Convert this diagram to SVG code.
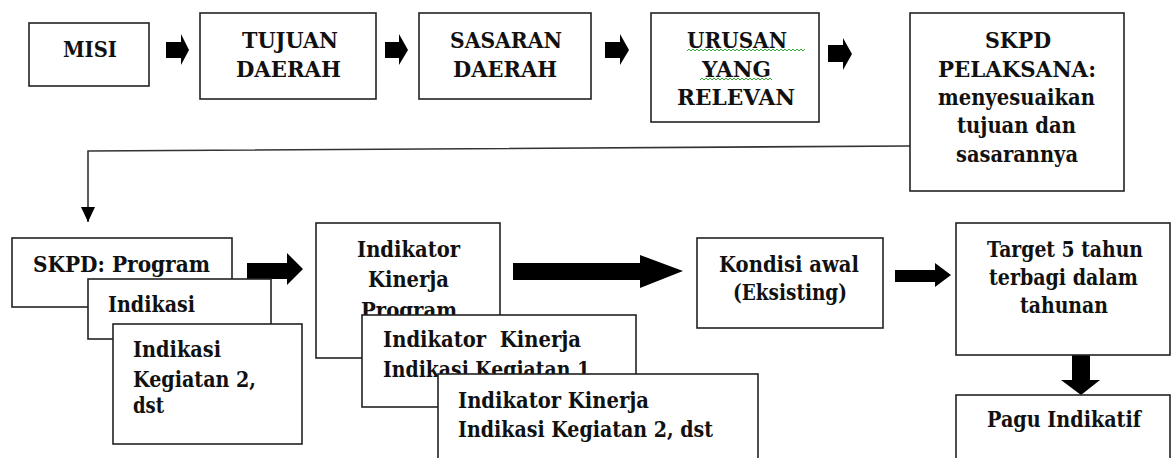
<svg xmlns="http://www.w3.org/2000/svg" width="1171" height="458" viewBox="0 0 1171 458">
<style>
.box{fill:#fff;stroke:#222;stroke-width:1.6}
.t{font-weight:bold;font-size:22px;fill:#111}
.blk{fill:#000}
.ln{fill:none;stroke:#333;stroke-width:1.6}
.sq{fill:none;stroke:#3a3;stroke-width:1}
</style>
<defs>
<marker id="ah" markerWidth="16" markerHeight="16" refX="15" refY="8" orient="auto" markerUnits="userSpaceOnUse" viewBox="0 0 16 16">
<path d="M0,1 L15,8 L0,15 Z" fill="#000"/>
</marker>
</defs>
<g id="connectors">
<path class="blk" d="M166,42 L181,42 L181,34 L189,50 L181,65 L181,58 L166,58 Z"/>
<path class="blk" d="M385,42 L399,42 L399,34 L408,50 L399,65 L399,58 L385,58 Z"/>
<path class="blk" d="M605,42 L620,42 L620,34 L629,50 L620,65 L620,58 L605,58 Z"/>
<path class="blk" d="M828,45 L843,45 L843,38 L852,54 L843,70 L843,62 L828,62 Z"/>
<path class="ln" d="M910,146 L88,151 L88,222" marker-end="url(#ah)"/>
<path class="blk" d="M247,263 L287,263 L287,253 L303,269 L287,285 L287,279 L247,279 Z"/>
<path class="blk" d="M513,263 L640,263 L640,255 L683,271 L640,288 L640,280 L513,280 Z"/>
<path class="blk" d="M895,270 L935,270 L935,263 L951,275 L935,287 L935,282 L895,282 Z"/>
<path class="blk" d="M1072,337 L1090,337 L1090,380 L1100,380 L1081,395 L1061,380 L1072,380 Z"/>
</g>
<g id="misi"><rect class="box" x="29" y="23" width="120" height="63"/><text class="t" font-family="DejaVu Serif" x="63" y="57" textLength="54" lengthAdjust="spacingAndGlyphs">MISI</text></g>
<g id="tujuan"><rect class="box" x="200" y="13" width="176" height="86"/><text class="t" font-family="DejaVu Serif" x="242" y="48" textLength="96" lengthAdjust="spacingAndGlyphs">TUJUAN</text><text class="t" font-family="DejaVu Serif" x="236" y="77" textLength="105" lengthAdjust="spacingAndGlyphs">DAERAH</text></g>
<g id="sasaran"><rect class="box" x="419" y="13" width="172" height="86"/><text class="t" font-family="DejaVu Serif" x="450" y="48" textLength="112" lengthAdjust="spacingAndGlyphs">SASARAN</text><text class="t" font-family="DejaVu Serif" x="453" y="77" textLength="104" lengthAdjust="spacingAndGlyphs">DAERAH</text></g>
<g id="urusan"><rect class="box" x="651" y="13" width="168" height="109"/><text class="t" font-family="DejaVu Serif" x="687" y="48" textLength="100" lengthAdjust="spacingAndGlyphs">URUSAN</text><text class="t" font-family="DejaVu Serif" x="702" y="77" textLength="69" lengthAdjust="spacingAndGlyphs">YANG</text><text class="t" font-family="DejaVu Serif" x="677" y="105" textLength="118" lengthAdjust="spacingAndGlyphs">RELEVAN</text>
<path class="sq" d="M687,51 l2,-2 l2,2 l2,-2 l2,2 l2,-2 l2,2 l2,-2 l2,2 l2,-2 l2,2 l2,-2 l2,2 l2,-2 l2,2 l2,-2 l2,2 l2,-2 l2,2 l2,-2 l2,2 l2,-2 l2,2 l2,-2 l2,2 l2,-2 l2,2 l2,-2 l2,2 l2,-2 l2,2 l2,-2 l2,2 l2,-2 l2,2 l2,-2 l2,2 l2,-2 l2,2 l2,-2 l2,2 l2,-2 l2,2 l2,-2 l2,2 l2,-2 l2,2 l2,-2 l2,2 l2,-2 l2,2 l2,-2 l2,2 l2,-2 l2,2 l2,-2 l2,2 l2,-2 l2,2 l2,-2"/>
<path class="sq" d="M700,80 l2,-2 l2,2 l2,-2 l2,2 l2,-2 l2,2 l2,-2 l2,2 l2,-2 l2,2 l2,-2 l2,2 l2,-2 l2,2 l2,-2 l2,2 l2,-2 l2,2 l2,-2 l2,2 l2,-2 l2,2 l2,-2 l2,2 l2,-2 l2,2 l2,-2 l2,2 l2,-2 l2,2 l2,-2 l2,2 l2,-2 l2,2 l2,-2 l2,2"/>
</g>
<g id="skpd-pelaksana"><rect class="box" x="910" y="13" width="214" height="178"/><text class="t" font-family="DejaVu Serif" x="985" y="48" textLength="66" lengthAdjust="spacingAndGlyphs">SKPD</text><text class="t" font-family="DejaVu Serif" x="938" y="77" textLength="158" lengthAdjust="spacingAndGlyphs">PELAKSANA:</text><text class="t" font-family="DejaVu Serif" x="938" y="105" textLength="157" lengthAdjust="spacingAndGlyphs">menyesuaikan</text><text class="t" font-family="DejaVu Serif" x="957" y="133" textLength="119" lengthAdjust="spacingAndGlyphs">tujuan dan</text><text class="t" font-family="DejaVu Serif" x="956" y="162" textLength="122" lengthAdjust="spacingAndGlyphs">sasarannya</text></g>
<g id="skpd-program"><rect class="box" x="12" y="238" width="220" height="69"/><text class="t" font-family="DejaVu Serif" x="33" y="272" textLength="177" lengthAdjust="spacingAndGlyphs">SKPD: Program</text></g>
<g id="indikasi-1"><rect class="box" x="88" y="279" width="183" height="60"/><text class="t" font-family="DejaVu Serif" x="108" y="312" textLength="87" lengthAdjust="spacingAndGlyphs">Indikasi</text></g>
<g id="indikasi-2"><rect class="box" x="113" y="324" width="189" height="120"/><text class="t" font-family="DejaVu Serif" x="133" y="357" textLength="88" lengthAdjust="spacingAndGlyphs">Indikasi</text><text class="t" font-family="DejaVu Serif" x="133" y="387" textLength="123" lengthAdjust="spacingAndGlyphs">Kegiatan 2,</text><text class="t" font-family="DejaVu Serif" x="133" y="413" textLength="31" lengthAdjust="spacingAndGlyphs">dst</text></g>
<g id="ik-program"><rect class="box" x="316" y="223" width="184" height="135"/><text class="t" font-family="DejaVu Serif" x="357" y="257" textLength="103" lengthAdjust="spacingAndGlyphs">Indikator</text><text class="t" font-family="DejaVu Serif" x="368" y="287" textLength="81" lengthAdjust="spacingAndGlyphs">Kinerja</text><text class="t" font-family="DejaVu Serif" x="361" y="318" textLength="96" lengthAdjust="spacingAndGlyphs">Program</text></g>
<g id="ik-kegiatan-1"><rect class="box" x="362" y="315" width="274" height="92"/><text class="t" font-family="DejaVu Serif" x="383" y="347" textLength="198" lengthAdjust="spacingAndGlyphs" xml:space="preserve">Indikator  Kinerja</text><text class="t" font-family="DejaVu Serif" x="383" y="377" textLength="207" lengthAdjust="spacingAndGlyphs">Indikasi Kegiatan 1</text></g>
<g id="ik-kegiatan-2"><rect class="box" x="438" y="374" width="320" height="92"/><text class="t" font-family="DejaVu Serif" x="458" y="408" textLength="191" lengthAdjust="spacingAndGlyphs">Indikator Kinerja</text><text class="t" font-family="DejaVu Serif" x="458" y="437" textLength="255" lengthAdjust="spacingAndGlyphs">Indikasi Kegiatan 2, dst</text></g>
<g id="kondisi"><rect class="box" x="697" y="238" width="186" height="90"/><text class="t" font-family="DejaVu Serif" x="719" y="272" textLength="140" lengthAdjust="spacingAndGlyphs">Kondisi awal</text><text class="t" font-family="DejaVu Serif" x="733" y="300" textLength="114" lengthAdjust="spacingAndGlyphs">(Eksisting)</text></g>
<g id="target"><rect class="box" x="956" y="223" width="214" height="132"/><text class="t" font-family="DejaVu Serif" x="987" y="257" textLength="156" lengthAdjust="spacingAndGlyphs">Target 5 tahun</text><text class="t" font-family="DejaVu Serif" x="989" y="285" textLength="149" lengthAdjust="spacingAndGlyphs">terbagi dalam</text><text class="t" font-family="DejaVu Serif" x="1020" y="313" textLength="88" lengthAdjust="spacingAndGlyphs">tahunan</text></g>
<g id="pagu"><rect class="box" x="956" y="395" width="214" height="70"/><text class="t" font-family="DejaVu Serif" x="987" y="427" textLength="154" lengthAdjust="spacingAndGlyphs">Pagu Indikatif</text></g>
</svg>
